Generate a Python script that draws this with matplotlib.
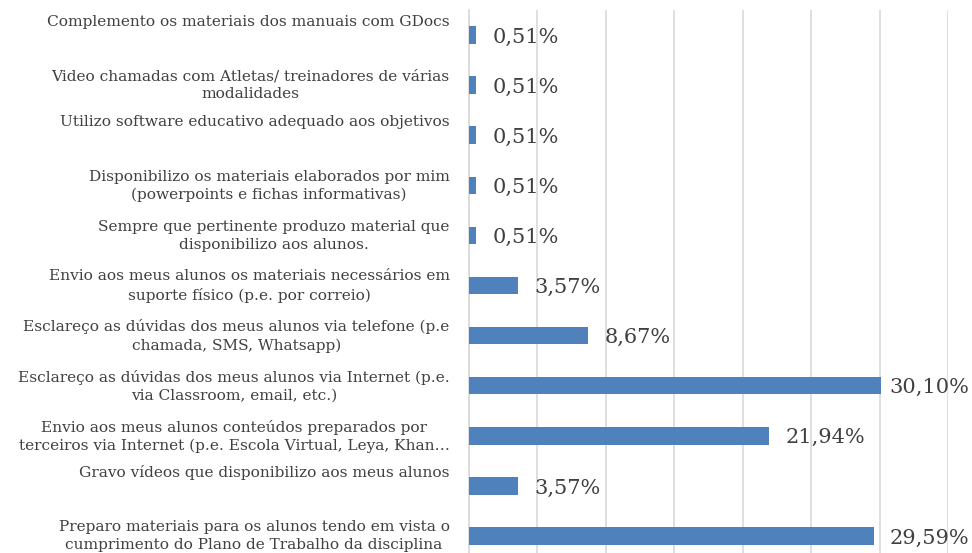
import matplotlib.pyplot as plt
import matplotlib.transforms as mtransforms

categories = [
    'Complemento os materiais dos manuais com GDocs',
    'Video chamadas com Atletas/ treinadores de várias\nmodalidades',
    'Utilizo software educativo adequado aos objetivos',
    'Disponibilizo os materiais elaborados por mim\n(powerpoints e fichas informativas)',
    'Sempre que pertinente produzo material que\ndisponibilizo aos alunos.',
    'Envio aos meus alunos os materiais necessários em\nsuporte físico (p.e. por correio)',
    'Esclareço as dúvidas dos meus alunos via telefone (p.e\nchamada, SMS, Whatsapp)',
    'Esclareço as dúvidas dos meus alunos via Internet (p.e.\nvia Classroom, email, etc.)',
    'Envio aos meus alunos conteúdos preparados por\nterceiros via Internet (p.e. Escola Virtual, Leya, Khan…',
    'Gravo vídeos que disponibilizo aos meus alunos',
    'Preparo materiais para os alunos tendo em vista o\ncumprimento do Plano de Trabalho da disciplina',
]
values = [0.51, 0.51, 0.51, 0.51, 0.51, 3.57, 8.67, 30.10, 21.94, 3.57, 29.59]

bar_color = '#4F81BD'
text_color = '#404040'
label_font = 'DejaVu Serif'

fig = plt.figure(figsize=(9.72, 5.53), dpi=100)
ax = fig.add_axes([469 / 972, -8 / 553, (948 - 469) / 972, 551 / 553])

ypos = list(range(len(categories)))
ax.barh(ypos, values, height=0.35, color=bar_color, zorder=3)

ax.set_yticks(ypos)
ax.set_yticklabels(categories, fontsize=11.1, color=text_color,
                   family=label_font, multialignment='center',
                   linespacing=1.35)
ax.tick_params(axis='y', length=0, pad=14)
ax.tick_params(axis='x', length=0, labelbottom=False)

# labels sit a little above the bar centre; single-line ones sit where the
# first line of a wrapped label would be
for lab in ax.get_yticklabels():
    up = 3 if '\n' in lab.get_text() else 15
    shift = mtransforms.ScaledTranslation(0, up / 100, fig.dpi_scale_trans)
    lab.set_transform(lab.get_transform() + shift)

ax.set_ylim(len(categories) - 0.5, -0.5)
ax.set_xlim(0, 35)
ax.set_xticks([0, 5, 10, 15, 20, 25, 30, 35])
ax.grid(axis='x', color='#D9D9D9', linewidth=1.2, zorder=0)

for s in ['top', 'right', 'bottom']:
    ax.spines[s].set_visible(False)
ax.spines['left'].set_color('#D9D9D9')
ax.spines['left'].set_linewidth(1.2)

value_labels = []
for y, v in zip(ypos, values):
    lbl = f'{v:.2f}%'.replace('.', ',')
    t = ax.annotate(lbl, (v, y), xytext=(12, -1.5), textcoords='offset points',
                    ha='left', va='center', fontsize=15, color=text_color,
                    family=label_font, annotation_clip=False)
    value_labels.append(t)

# keep data labels inside the figure, as the spreadsheet does
fig.canvas.draw()
renderer = fig.canvas.get_renderer()
fig_w = fig.bbox.width
for t in value_labels:
    bb = t.get_window_extent(renderer)
    over = bb.x1 - (fig_w - 3)
    if over > 0:
        dx, dy = t.xyann
        t.xyann = (dx - over * 72 / fig.dpi, dy)

fig.savefig('out.png', dpi=100)
